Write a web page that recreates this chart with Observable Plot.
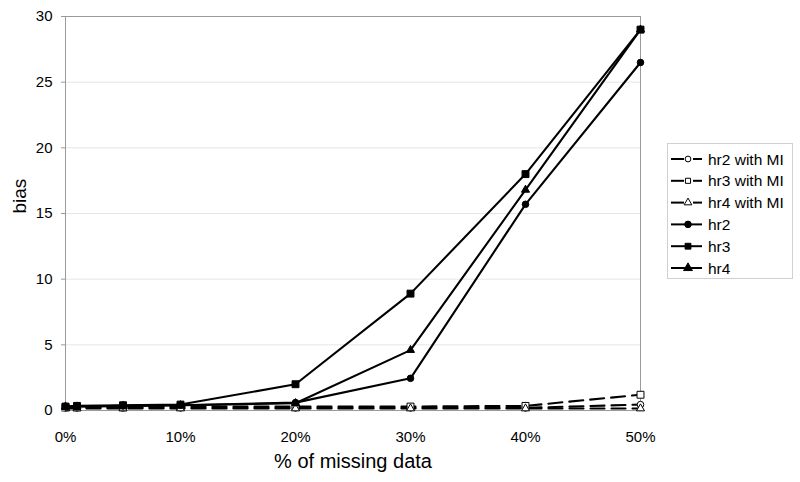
<!DOCTYPE html>
<html><head><meta charset="utf-8">
<script src="https://cdn.jsdelivr.net/npm/d3@7"></script>
<script src="https://cdn.jsdelivr.net/npm/@observablehq/plot@0.6"></script>
<style>
body{margin:0;background:#fff;font-family:"Liberation Sans",Arial,sans-serif;}
#wrap{position:relative;width:800px;height:482px;}
#legend{position:absolute;left:667px;top:143px;width:126px;height:136px;border:1px solid #d0d0d0;box-sizing:border-box;background:#fff;}
</style></head><body>
<div id="wrap"><div id="chart"></div><div id="legend"></div></div>
<script>
const missing = [0, 1, 5, 10, 20, 30, 40, 50];
const xTicks = [0, 10, 20, 30, 40, 50];
const yTicks = [0, 5, 10, 15, 20, 25, 30];
const hr2MI = [0.2, 0.2, 0.2, 0.2, 0.2, 0.2, 0.2, 0.45];
const hr3MI = [0.25, 0.25, 0.25, 0.3, 0.3, 0.3, 0.35, 1.2];
const hr4MI = [0.15, 0.15, 0.15, 0.15, 0.15, 0.15, 0.15, 0.15];
const hr2 = [0.3, 0.3, 0.35, 0.4, 0.6, 2.45, 15.7, 26.5];
const hr3 = [0.3, 0.35, 0.4, 0.45, 2.0, 8.9, 18.0, 29.0];
const hr4 = [0.3, 0.3, 0.35, 0.4, 0.55, 4.6, 16.8, 29.0];

const series = [
  {name: "hr2 with MI", values: hr2MI, symbol: "circle", fill: "white", dashed: true},
  {name: "hr3 with MI", values: hr3MI, symbol: "square", fill: "white", dashed: true},
  {name: "hr4 with MI", values: hr4MI, symbol: "triangle", fill: "white", dashed: true},
  {name: "hr2", values: hr2, symbol: "circle", fill: "black", dashed: false},
  {name: "hr3", values: hr3, symbol: "square", fill: "black", dashed: false},
  {name: "hr4", values: hr4, symbol: "triangle", fill: "black", dashed: false}
];
const rows = series.flatMap(s => s.values.map((v, i) => ({series: s.name, x: missing[i], y: v})));
const rOf = {circle: 3.3, square: 3.9, triangle: 3.0};
const dotOrder = ["hr2 with MI", "hr3 with MI", "hr4 with MI", "hr2", "hr4", "hr3"];

const marks = [
  Plot.gridY(yTicks.filter(d => d > 0 && d < 30), {stroke: "#e6e6e6", strokeOpacity: 1}),
  Plot.frame({stroke: "#9a9a9a"})
];
for (const s of series) {
  const d = rows.filter(r => r.series === s.name);
  marks.push(Plot.line(d, {x: "x", y: "y", stroke: "black", strokeWidth: 2.1,
    strokeDasharray: s.dashed ? "14,7" : null}));
}
for (const name of dotOrder) {
  const s = series.find(t => t.name === name);
  const d = rows.filter(r => r.series === s.name);
  marks.push(Plot.dot(d, {x: "x", y: "y", symbol: () => s.symbol, r: rOf[s.symbol],
    fill: s.fill, stroke: "black", strokeWidth: 1}));
}

const font = "'Liberation Sans', Arial, sans-serif";
const chart = Plot.plot({
  width: 800, height: 482,
  marginLeft: 65, marginRight: 160, marginTop: 16, marginBottom: 72,
  style: {fontFamily: font, fontSize: "15px", color: "#000", background: "white"},
  x: {domain: [0, 50]},
  y: {domain: [0, 30]},
  symbol: {type: "identity"},
  marks: [
    ...marks,
    Plot.axisX({ticks: xTicks, tickFormat: d => d + "%", tickSize: 0, tickPadding: 21, label: null, fontSize: 15}),
    Plot.axisY({ticks: yTicks, tickSize: 4, tickPadding: 9, stroke: "#999", label: null, fontSize: 15}),
    Plot.text(["% of missing data"], {frameAnchor: "bottom", dy: 57, fontSize: 20}),
    Plot.text(["bias"], {frameAnchor: "left", dx: -46, rotate: -90, fontSize: 19})
  ]
});
document.getElementById("chart").appendChild(chart);

// legend
const lg = d3.select("#legend").append("svg").attr("width", 124).attr("height", 134);
series.forEach((s, i) => {
  const y = 15 + i * 21.8;
  const g = lg.append("g").attr("transform", `translate(0,${y})`);
  if (s.dashed) {
    g.append("line").attr("x1", 3).attr("x2", 16).attr("y1", 0).attr("y2", 0).attr("stroke", "black").attr("stroke-width", 2);
    g.append("line").attr("x1", 25).attr("x2", 34).attr("y1", 0).attr("y2", 0).attr("stroke", "black").attr("stroke-width", 2);
  } else {
    g.append("line").attr("x1", 3).attr("x2", 34).attr("y1", 0).attr("y2", 0).attr("stroke", "black").attr("stroke-width", 2);
  }
  const sym = {circle: d3.symbolCircle, square: d3.symbolSquare, triangle: d3.symbolTriangle}[s.symbol];
  g.append("path").attr("d", d3.symbol(sym, s.dashed ? 26 : 34)()).attr("transform", "translate(20,0)")
    .attr("fill", s.fill).attr("stroke", "black").attr("stroke-width", 1);
  g.append("text").attr("x", 40).attr("y", 5.5).text(s.name)
    .style("font-family", font).style("font-size", "15.5px");
});
</script>
</body></html>
